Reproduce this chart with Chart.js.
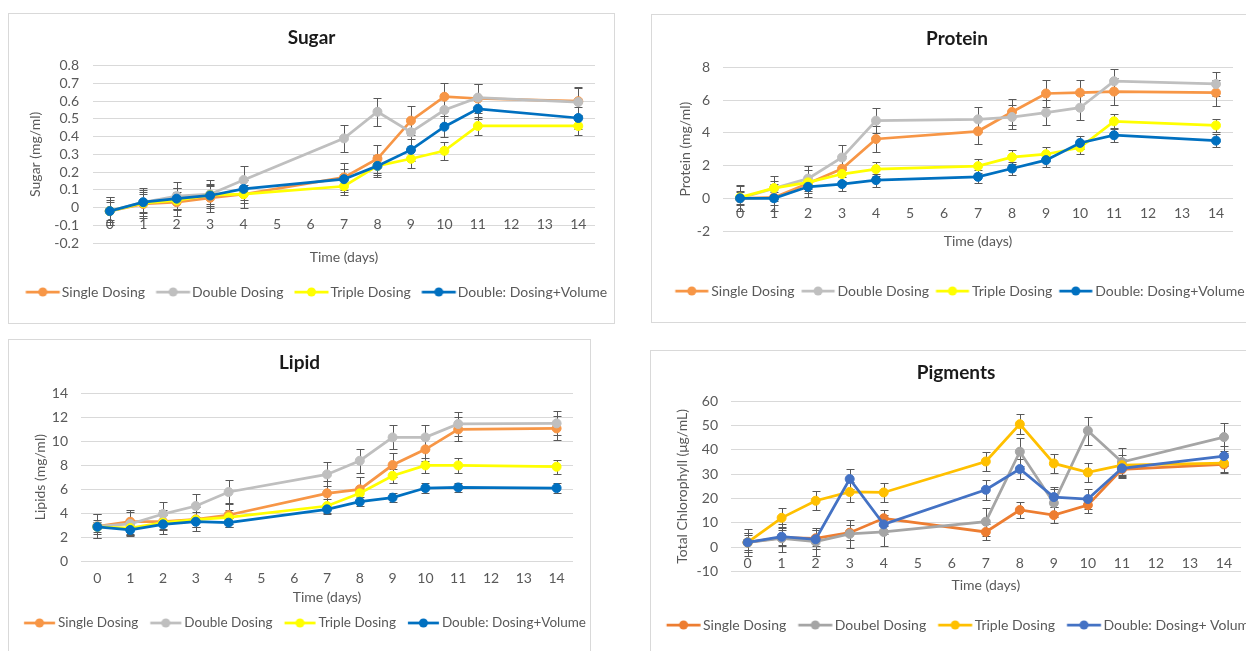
<!DOCTYPE html>
<html>
<head>
<meta charset="utf-8">
<script src="https://cdn.jsdelivr.net/npm/chart.js@4.4.0/dist/chart.umd.min.js"></script>
<style>
  html, body { margin: 0; padding: 0; background: #fff; overflow: hidden; }
  body { width: 1246px; height: 651px; position: relative; }
  .panel { position: absolute; border: 1px solid #d9d9d9; background: #fff; }
  .panel canvas { display: block; }
</style>
</head>
<body>
<div class="panel" style="left:8px;top:13px"><canvas id="sugar" width="605" height="309"></canvas></div>
<div class="panel" style="left:651px;top:14px"><canvas id="protein" width="610" height="307"></canvas></div>
<div class="panel" style="left:8px;top:339px"><canvas id="lipid" width="581" height="312"></canvas></div>
<div class="panel" style="left:650px;top:350px"><canvas id="pigments" width="610" height="300"></canvas></div>
<script>
// x axis tick labels and the days that were sampled
const dayLabels = ["0", "1", "2", "3", "4", "5", "6", "7", "8", "9", "10", "11", "12", "13", "14"];
const days = [0, 1, 2, 3, 4, 7, 8, 9, 10, 11, 14];

const seriesNames = ["Single Dosing", "Double Dosing", "Triple Dosing", "Double: Dosing+Volume"];
const pigmentNames = ["Single Dosing", "Doubel Dosing", "Triple Dosing", "Double: Dosing+ Volume"];
const oldColors = ["#F79646", "#BFBFBF", "#FFFF00", "#0070C0"];
const pigmentColors = ["#ED7D31", "#A5A5A5", "#FFC000", "#4472C4"];

// sugar (mg/ml)
const sugarSingle = [-0.02, 0.02, 0.03, 0.055, 0.075, 0.17, 0.275, 0.49, 0.625, 0.615, 0.6];
const sugarDouble = [-0.02, 0.03, 0.065, 0.075, 0.155, 0.39, 0.54, 0.425, 0.55, 0.62, 0.595];
const sugarTriple = [-0.02, 0.025, 0.04, 0.07, 0.075, 0.12, 0.235, 0.275, 0.32, 0.46, 0.46];
const sugarDV = [-0.02, 0.03, 0.05, 0.068, 0.105, 0.16, 0.235, 0.325, 0.456, 0.557, 0.505];
const sugarErrSingle = [0.08, 0.08, 0.08, 0.08, 0.08, 0.08, 0.08, 0.08, 0.08, 0.08, 0.08];
const sugarErrDouble = [0.078, 0.078, 0.078, 0.078, 0.078, 0.078, 0.078, 0.078, 0.078, 0.078, 0.078];
const sugarErrTriple = [0.05, 0.05, 0.05, 0.05, 0.05, 0.05, 0.05, 0.05, 0.05, 0.05, 0.05];
const sugarErrDV = [0.06, 0.06, 0.06, 0.06, 0.06, 0.06, 0.06, 0.06, 0.06, 0.06, 0.06];

// protein (mg/ml)
const proteinSingle = [0, 0.05, 0.9, 1.8, 3.62, 4.09, 5.27, 6.4, 6.45, 6.52, 6.45];
const proteinDouble = [0, 0.6, 1.2, 2.49, 4.74, 4.82, 4.96, 5.23, 5.53, 7.15, 6.98];
const proteinTriple = [0.05, 0.62, 0.97, 1.48, 1.78, 1.96, 2.51, 2.69, 3.1, 4.7, 4.45];
const proteinDV = [0, 0, 0.7, 0.87, 1.11, 1.31, 1.82, 2.33, 3.38, 3.85, 3.52];
const proteinErrSingle = [0.8, 0.8, 0.8, 0.8, 0.8, 0.8, 0.8, 0.8, 0.8, 0.8, 0.8];
const proteinErrDouble = [0.75, 0.75, 0.75, 0.75, 0.75, 0.75, 0.75, 0.75, 0.75, 0.75, 0.75];
const proteinErrTriple = [0.42, 0.42, 0.42, 0.42, 0.42, 0.42, 0.42, 0.42, 0.42, 0.42, 0.42];
const proteinErrDV = [0.4, 0.4, 0.4, 0.4, 0.4, 0.4, 0.4, 0.4, 0.4, 0.4, 0.4];

// lipids (mg/ml)
const lipidSingle = [2.9, 3.28, 3.28, 3.48, 3.84, 5.65, 5.98, 8.01, 9.32, 10.99, 11.07];
const lipidDouble = [2.9, 3.09, 3.92, 4.59, 5.76, 7.23, 8.37, 10.32, 10.32, 11.44, 11.49];
const lipidTriple = [2.85, 2.75, 3.2, 3.45, 3.65, 4.59, 5.65, 7.12, 7.98, 7.98, 7.87];
const lipidDV = [2.85, 2.59, 3.06, 3.28, 3.2, 4.31, 4.95, 5.29, 6.09, 6.14, 6.09];
const lipidErrSingle = [1, 1, 1, 1, 1, 1, 1, 1, 1, 1, 1];
const lipidErrDouble = [1, 1, 1, 1, 1, 1, 1, 1, 1, 1, 1];
const lipidErrTriple = [0.6, 0.6, 0.6, 0.6, 0.6, 0.6, 0.6, 0.6, 0.6, 0.6, 0.6];
const lipidErrDV = [0.4, 0.4, 0.4, 0.4, 0.4, 0.4, 0.4, 0.4, 0.4, 0.4, 0.4];

// total chlorophyll (ug/mL)
const pigSingle = [2, 4, 3.7, 6, 11.9, 6.3, 15.3, 13.2, 17.3, 32, 34];
const pigDouble = [2, 3.7, 2.3, 5.5, 6.3, 10.5, 39.2, 18.2, 47.8, 35, 45.2];
const pigTriple = [2, 12.1, 19.1, 22.7, 22.5, 35.2, 50.5, 34.4, 30.7, 33.7, 34.5];
const pigDV = [2, 4.35, 3.3, 28, 9.4, 23.6, 32.1, 20.6, 19.8, 32.4, 37.4];
const pigErrSingle = [3.2, 3.2, 3.2, 3.2, 3.2, 3.2, 3.2, 3.2, 3.2, 3.2, 3.2];
const pigErrDouble = [5.7, 5.7, 5.7, 5.7, 5.7, 5.7, 5.7, 5.7, 5.7, 5.7, 5.7];
const pigErrTriple = [4, 4, 4, 4, 4, 4, 4, 4, 4, 4, 4];
const pigErrDV = [4, 4, 4, 4, 4, 4, 4, 4, 4, 4, 4];

Chart.defaults.font.family = "Lato";
Chart.defaults.font.size = 14;
Chart.defaults.color = "#595959";
Chart.defaults.animation = false;

const LEGEND_PAD = 1;

// excel style error bars with caps
const errorBars = {
  id: "errorBars",
  beforeDatasetsDraw(chart) {
    const ctx = chart.ctx;
    const y = chart.scales.y;
    ctx.save();
    ctx.strokeStyle = "#595959";
    ctx.lineWidth = 1;
    chart.data.datasets.forEach((ds, i) => {
      const meta = chart.getDatasetMeta(i);
      meta.data.forEach((pt, j) => {
        const v = ds.data[j].y;
        const e = ds.errors[j];
        const top = Math.round(y.getPixelForValue(v + e)) + 0.5;
        const bot = Math.round(y.getPixelForValue(v - e)) + 0.5;
        const x = Math.round(pt.x) + 0.5;
        ctx.beginPath();
        ctx.moveTo(x, top);
        ctx.lineTo(x, bot);
        ctx.moveTo(x - 4, top);
        ctx.lineTo(x + 4, top);
        ctx.moveTo(x - 4, bot);
        ctx.lineTo(x + 4, bot);
        ctx.stroke();
      });
    });
    ctx.restore();
  },
};

// line + marker sample for the legend, drawn as an image point style
function legendIcon(color, lineLen, start, boxW) {
  const c = boxW / 2;
  const half = Math.ceil(Math.max(c - start, start + lineLen - c)) + 1;
  const cv = document.createElement("canvas");
  cv.width = half * 2;
  cv.height = 14;
  const g = cv.getContext("2d");
  const x0 = start - c + half;
  g.strokeStyle = color;
  g.lineWidth = 2.75;
  g.beginPath();
  g.moveTo(x0, 7);
  g.lineTo(x0 + lineLen, 7);
  g.stroke();
  g.fillStyle = color;
  g.beginPath();
  g.arc(x0 + lineLen / 2, 7, 4.5, 0, Math.PI * 2);
  g.fill();
  return cv;
}

function makeChart(id, o) {
  // box width chosen so the gap between items is gapItem with a tiny padding
  const boxW = o.lineLen + o.gapText + o.gapItem - o.legendFont / 2 - LEGEND_PAD;
  const start = o.gapItem - LEGEND_PAD;
  const icons = o.colors.map((c) => legendIcon(c, o.lineLen, start, boxW));

  const datasets = o.series.map((vals, i) => ({
    label: o.names[i],
    data: days.map((d, j) => ({ x: String(d), y: vals[j] })),
    errors: o.errors[i],
    borderColor: o.colors[i],
    backgroundColor: o.colors[i],
    pointBackgroundColor: o.colors[i],
    pointBorderColor: o.colors[i],
    borderWidth: 2.75,
    pointRadius: 4.5,
    pointBorderWidth: 1,
    tension: 0,
    order: o.series.length - i,
  }));

  const scales = {
    x: {
      type: "category",
      offset: true,
      grid: { display: false, drawTicks: false },
      border: { display: false },
      ticks: { display: !o.atZero, padding: o.xTickPad, maxRotation: 0, autoSkip: false },
      title: { display: true, text: "Time (days)", padding: { top: 0, bottom: o.xTitlePad } },
      afterFit: (s) => { s.height = o.xHeight; },
    },
    y: {
      type: "linear",
      min: o.yMin,
      max: o.yMax,
      ticks: {
        count: Math.round((o.yMax - o.yMin) / o.yStep) + 1,
        autoSkip: false,
        padding: o.yTickPad,
        callback: (v) => String(Math.round(v * 100) / 100),
      },
      grid: { color: "#d9d9d9", drawTicks: false },
      border: { display: false },
      title: { display: true, text: o.yTitle, padding: { top: o.yTitlePad, bottom: 0 } },
      afterFit: (s) => { s.width = o.yWidth; },
    },
    yRight: {
      type: "linear",
      axis: "y",
      position: "right",
      ticks: { display: false },
      grid: { display: false },
      border: { display: false },
      afterFit: (s) => { s.width = o.rightW; },
    },
  };
  if (o.atZero) {
    // excel puts the day labels next to the zero line
    scales.xZero = {
      type: "category",
      axis: "x",
      offset: true,
      position: { y: 0 },
      grid: { display: false, drawTicks: false },
      border: { display: false },
      ticks: { padding: o.xTickPad, maxRotation: 0, autoSkip: false },
    };
  }

  return new Chart(document.getElementById(id), {
    type: "line",
    data: { labels: dayLabels, datasets },
    options: {
      responsive: false,
      devicePixelRatio: 1,
      layout: { padding: { top: 0, left: 0, right: 0, bottom: o.bottomPad } },
      scales,
      plugins: {
        title: {
          display: true,
          text: o.title,
          color: "#1a1a1a",
          font: { size: 19, weight: "bold" },
          padding: { top: o.titleTop, bottom: o.titleBottom },
        },
        legend: {
          position: "bottom",
          labels: {
            usePointStyle: true,
            pointStyleWidth: boxW,
            padding: LEGEND_PAD,
            font: { size: o.legendFont },
            color: "#595959",
            sort: (a, b) => a.datasetIndex - b.datasetIndex,
            generateLabels: (chart) =>
              Chart.defaults.plugins.legend.labels.generateLabels(chart).map((it) => ({
                ...it,
                pointStyle: icons[it.datasetIndex],
              })),
          },
        },
        tooltip: { enabled: false },
      },
    },
    plugins: [errorBars],
  });
}

makeChart("sugar", {
  title: "Sugar", yTitle: "Sugar (mg/ml)",
  yMin: -0.2, yMax: 0.8, yStep: 0.1,
  names: seriesNames, colors: oldColors,
  series: [sugarSingle, sugarDouble, sugarTriple, sugarDV],
  errors: [sugarErrSingle, sugarErrDouble, sugarErrTriple, sugarErrDV],
  atZero: true,
  titleTop: 12.6, titleBottom: 16.3,
  yWidth: 84, yTitlePad: 17.6, yTickPad: 14, rightW: 19,
  xHeight: 41, xTitlePad: 18.6, xTickPad: 9,
  bottomPad: 14, legendFont: 14, lineLen: 34, gapText: 2, gapItem: 11,
});

makeChart("protein", {
  title: "Protein", yTitle: "Protein (mg/ml)",
  yMin: -2, yMax: 8, yStep: 2,
  names: seriesNames, colors: oldColors,
  series: [proteinSingle, proteinDouble, proteinTriple, proteinDV],
  errors: [proteinErrSingle, proteinErrDouble, proteinErrTriple, proteinErrDV],
  atZero: true,
  titleTop: 12.6, titleBottom: 16.9,
  yWidth: 71, yTitlePad: 24.6, yTickPad: 13, rightW: 29,
  xHeight: 52, xTitlePad: 32.9, xTickPad: 7.3,
  bottomPad: 14, legendFont: 14, lineLen: 33, gapText: 3, gapItem: 7,
});

makeChart("lipid", {
  title: "Lipid", yTitle: "Lipids (mg/ml)",
  yMin: 0, yMax: 14, yStep: 2,
  names: seriesNames, colors: oldColors,
  series: [lipidSingle, lipidDouble, lipidTriple, lipidDV],
  errors: [lipidErrSingle, lipidErrDouble, lipidErrTriple, lipidErrDV],
  atZero: false,
  titleTop: 11.9, titleBottom: 18.6,
  yWidth: 72, yTitlePad: 22.6, yTickPad: 13, rightW: 17,
  xHeight: 54.25, xTitlePad: 9.85, xTickPad: 8.6,
  bottomPad: 12.25, legendFont: 13.5, lineLen: 31, gapText: 3, gapItem: 12,
});

makeChart("pigments", {
  title: "Pigments", yTitle: "Total Chlorophyll (\u03bcg/mL)",
  yMin: -10, yMax: 60, yStep: 10,
  names: pigmentNames, colors: pigmentColors,
  series: [pigSingle, pigDouble, pigTriple, pigDV],
  errors: [pigErrSingle, pigErrDouble, pigErrTriple, pigErrDV],
  atZero: true,
  titleTop: 10.3, titleBottom: 16.9,
  yWidth: 79.6, yTitlePad: 22.6, yTickPad: 12.6, rightW: 20,
  xHeight: 45.3, xTitlePad: 23.6, xTickPad: 7.6,
  bottomPad: 9, legendFont: 14, lineLen: 34, gapText: 2.5, gapItem: 12,
});
</script>
</body>
</html>
